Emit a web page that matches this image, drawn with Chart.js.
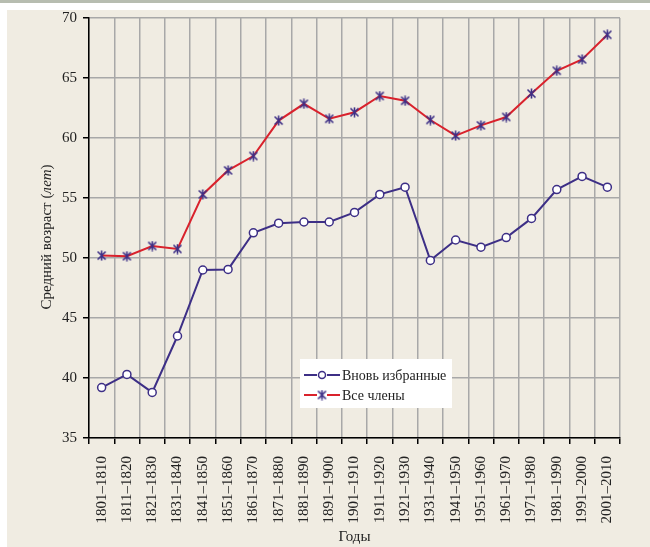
<!DOCTYPE html>
<html>
<head>
<meta charset="utf-8">
<script src="https://cdn.jsdelivr.net/npm/chart.js@4/dist/chart.umd.min.js"></script>
<style>
  body { margin: 0; background: #fff; }
  #bar { position: absolute; left: 0; top: 0; width: 650px; height: 3px; background: #b7bdb0; }
  #panel { position: absolute; left: 7px; top: 10px; width: 643px; height: 537px; background: #f0ece2; }
  #grafico { position: absolute; left: 0; top: 0; }
</style>
</head>
<body>
<div id="bar"></div>
<div id="panel"></div>
<canvas id="grafico" width="650" height="547"></canvas>
<script>
const periodos = ['1801–1810', '1811–1820', '1821–1830', '1831–1840', '1841–1850', '1851–1860', '1861–1870',
    '1871–1880', '1881–1890', '1891–1900', '1901–1910', '1911–1920', '1921–1930', '1931–1940',
    '1941–1950', '1951–1960', '1961–1970', '1971–1980', '1981–1990', '1991–2000', '2001–2010'];
const novos = [39.2, 40.3, 38.8, 43.5, 49.0, 49.05, 52.1, 52.9, 53.0, 53.0, 53.8, 55.3, 55.9, 49.8,
    51.5, 50.9, 51.7, 53.3, 55.7, 56.8, 55.9];
const todos = [50.2, 50.15, 51.0, 50.75, 55.3, 57.3, 58.5, 61.45, 62.85, 61.6, 62.15, 63.5, 63.1, 61.5,
    60.2, 61.05, 61.75, 63.7, 65.6, 66.55, 68.6];
const nomes = ['Вновь избранные', 'Все члены'];
const yMin = 35, yMax = 70, yPasso = 5;

const roxo = '#3d2f86';
const vermelho = '#d9222c';
const fonte = '"Liberation Serif", "DejaVu Serif", serif';

// marcador tipo asterisco (X com traço vertical)
function marcador(cor) {
    const c = document.createElement('canvas');
    c.width = 11; c.height = 11;
    const g = c.getContext('2d');
    g.strokeStyle = cor;
    g.lineWidth = 1.6;
    g.beginPath();
    g.moveTo(1.5, 1.5); g.lineTo(9.5, 9.5);
    g.moveTo(9.5, 1.5); g.lineTo(1.5, 9.5);
    g.moveTo(5.5, 0.5); g.lineTo(5.5, 10.5);
    g.stroke();
    return c;
}
const estrela = marcador(roxo);

// título do eixo y com "лет" em itálico
const tituloY = {
    id: 'tituloY',
    afterDraw(chart) {
        const ctx = chart.ctx;
        const partes = [['Средний возраст (', ''], ['лет', 'italic '], [')', '']];
        ctx.save();
        ctx.fillStyle = '#222';
        ctx.textBaseline = 'middle';
        let total = 0;
        partes.forEach(p => { ctx.font = p[1] + '15px ' + fonte; total += ctx.measureText(p[0]).width; });
        ctx.translate(47, 237);
        ctx.rotate(-Math.PI / 2);
        let x = -total / 2;
        partes.forEach(p => {
            ctx.font = p[1] + '15px ' + fonte;
            ctx.fillText(p[0], x, 0);
            x += ctx.measureText(p[0]).width;
        });
        ctx.restore();
    }
};

// legenda dentro da área do gráfico
const legenda = {
    id: 'legenda',
    afterDraw(chart) {
        const ctx = chart.ctx;
        const x0 = 300, y0 = 359;
        ctx.save();
        ctx.fillStyle = '#ffffff';
        ctx.fillRect(x0, y0, 152, 49);
        const itens = [
            { cor: roxo, y: y0 + 16, ponto: 'circle' },
            { cor: vermelho, y: y0 + 36, ponto: estrela }
        ];
        itens.forEach((it, i) => {
            ctx.strokeStyle = it.cor;
            ctx.lineWidth = 2;
            ctx.beginPath();
            ctx.moveTo(x0 + 4, it.y); ctx.lineTo(x0 + 17, it.y);
            ctx.moveTo(x0 + 27, it.y); ctx.lineTo(x0 + 40, it.y);
            ctx.stroke();
            if (it.ponto === 'circle') {
                ctx.fillStyle = '#fff';
                ctx.strokeStyle = roxo;
                ctx.lineWidth = 1.5;
                ctx.beginPath();
                ctx.arc(x0 + 22, it.y, 3.5, 0, Math.PI * 2);
                ctx.fill();
                ctx.stroke();
            } else {
                ctx.drawImage(it.ponto, x0 + 22 - 5.5, it.y - 5.5);
            }
            ctx.fillStyle = '#222';
            ctx.font = '14px ' + fonte;
            ctx.textBaseline = 'middle';
            ctx.fillText(nomes[i], x0 + 42, it.y + 1);
        });
        ctx.restore();
    }
};

const ctx = document.getElementById('grafico').getContext('2d');
const meuGrafico = new Chart(ctx, {
    type: 'line',
    data: {
        labels: periodos,
        datasets: [{
            label: nomes[0],
            data: novos,
            borderColor: roxo,
            borderWidth: 2,
            pointStyle: 'circle',
            pointRadius: 4,
            pointBorderWidth: 1.5,
            pointBackgroundColor: '#ffffff',
            pointBorderColor: roxo,
            tension: 0
        }, {
            label: nomes[1],
            data: todos,
            borderColor: vermelho,
            borderWidth: 2,
            pointStyle: estrela,
            pointRadius: 5,
            tension: 0
        }]
    },
    options: {
        responsive: false,
        animation: false,
        devicePixelRatio: 1,
        layout: { padding: { left: 0, top: 18, right: 30, bottom: 0 } },
        plugins: {
            legend: { display: false },
            tooltip: { enabled: false }
        },
        scales: {
            x: {
                offset: true,
                grid: { offset: true, color: '#a8a8a8', lineWidth: 1.5, tickLength: 6, tickColor: '#000' },
                border: { color: '#000', width: 1.5 },
                ticks: {
                    minRotation: 90, maxRotation: 90, autoSkip: false, padding: 12,
                    color: '#222', font: { family: fonte, size: 15 }
                },
                title: {
                    display: true, text: 'Годы', color: '#222',
                    font: { family: fonte, size: 15 }, padding: { top: 0, bottom: 1 }
                },
                afterFit: s => { s.height = 109; }
            },
            y: {
                min: yMin, max: yMax,
                grid: { color: '#a8a8a8', lineWidth: 1.5, tickLength: 6, tickColor: '#000' },
                border: { color: '#000', width: 1.5 },
                ticks: { stepSize: yPasso, padding: 6, color: '#222', font: { family: fonte, size: 15 } },
                afterFit: s => { s.width = 89; }
            }
        }
    },
    plugins: [tituloY, legenda]
});
</script>
</body>
</html>
